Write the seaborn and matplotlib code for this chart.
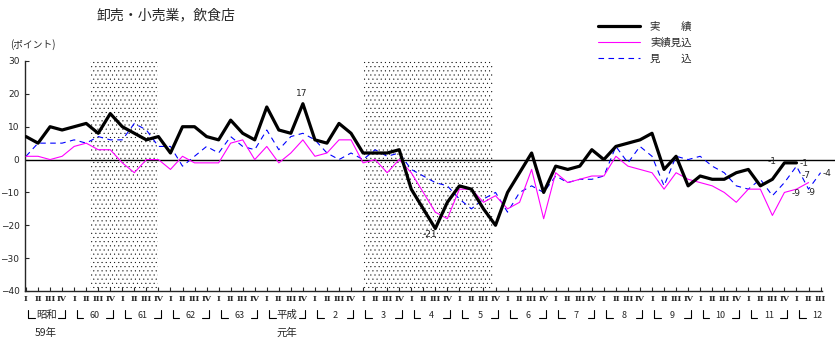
import numpy as np
import pandas as pd
import seaborn as sns
import matplotlib.pyplot as plt
from matplotlib.transforms import blended_transform_factory

# 実績 (1984 I - 2000 I)
jisseki = [7, 5, 10, 9, 10, 11, 8, 14, 10, 8, 6, 7, 2, 10, 10, 7, 6, 12, 8, 6,
           16, 9, 8, 17, 6, 5, 11, 8, 2, 2, 2, 3, -9, -15, -21, -13, -8, -9, -15, -20,
           -10, -4, 2, -10, -2, -3, -2, 3, 0, 4, 5, 6, 8, -3, 1, -8, -5, -6, -6, -4,
           -3, -8, -6, -1, -1]
# 実績見込 (1984 I - 2000 II)
jisseki_mikomi = [1, 1, 0, 1, 4, 5, 3, 3, -1, -4, 0, 0, -3, 1, -1, -1, -1, 5, 6, 0,
                  4, -1, 2, 6, 1, 2, 6, 6, -1, 0, -4, 0, -4, -10, -16, -18, -9, -9, -13, -11,
                  -15, -13, -3, -18, -4, -7, -6, -5, -5, 1, -2, -3, -4, -9, -4, -6, -7, -8, -10, -13,
                  -9, -9, -17, -10, -9, -7]
# 見込 (1984 I - 2000 III)
mikomi = [1, 5, 5, 5, 6, 5, 7, 6, 6, 11, 9, 4, 4, -2, 1, 4, 2, 7, 4, 3,
          9, 3, 7, 8, 6, 2, 0, 2, 0, 3, 1, 2, -3, -5, -7, -8, -12, -15, -12, -10,
          -16, -10, -8, -10, -5, -7, -6, -6, -5, 4, -1, 4, 1, -8, 1, 0, 1, -2, -4, -8,
          -9, -6, -11, -7, -2, -9, -4]

quarter_names = ["I", "II", "III", "IV"]
year_labels = ["昭和", "60", "61", "62", "63", "平成", "2", "3", "4", "5",
               "6", "7", "8", "9", "10", "11", "12"]
recessions = [(5.3, 11.0), (28.0, 38.8)]

df_a = pd.DataFrame({"q": np.arange(len(jisseki)), "v": jisseki})
df_b = pd.DataFrame({"q": np.arange(len(jisseki_mikomi)), "v": jisseki_mikomi})
df_c = pd.DataFrame({"q": np.arange(len(mikomi)), "v": mikomi})

sns.set_style("ticks")
plt.rcParams["font.family"] = ["Noto Sans CJK JP", "DejaVu Sans"]
plt.rcParams["hatch.linewidth"] = 0.25

fig = plt.figure(figsize=(8.4, 3.46), dpi=100)
ax = fig.add_axes([25 / 840, 55 / 346, 810 / 840, 230 / 346])

for a, b in recessions:
    ax.axvspan(a, b, facecolor="white", edgecolor="black", hatch="....", linewidth=0, zorder=0)
ax.axhline(0, color="black", lw=1, zorder=1)

sns.lineplot(data=df_c, x="q", y="v", ax=ax, color="#0000ff", lw=0.8,
             dashes=False, label="見　　込", zorder=2)
ax.lines[-1].set_dashes((5, 4))
sns.lineplot(data=df_b, x="q", y="v", ax=ax, color="#ff00ff", lw=0.8,
             label="実績見込", zorder=3)
sns.lineplot(data=df_a, x="q", y="v", ax=ax, color="black", lw=2.3,
             label="実　　績", zorder=4)

ax.set_xlim(-0.083, 67.2)
ax.set_ylim(-40, 30)
ax.set_xlabel("")
ax.set_ylabel("")
sns.despine(ax=ax)
ax.spines["bottom"].set_bounds(-0.083, 66.1)
ax.spines["left"].set_linewidth(1)
ax.spines["bottom"].set_linewidth(1)

n = len(mikomi)
ax.set_xticks(range(n))
ax.set_xticklabels([quarter_names[i % 4] for i in range(n)],
                   fontfamily="DejaVu Serif", fontweight="bold", fontsize=5.8)
ax.tick_params(axis="x", direction="in", length=3, width=0.8, pad=3)
ax.set_yticks(range(-40, 31, 10))
ax.tick_params(axis="y", direction="in", length=3, width=0.8, pad=4, labelsize=6.5)
for t in ax.get_yticklabels():
    t.set_fontfamily("DejaVu Sans")

# value labels
notes = [(23, 17, "17", -1, 10), (34, -21, "-21", -5, -6),
         (63, -1, "-1", -12, 1), (64, -1, "-1", 8, -1),
         (64, -9, "-9", 0, -4), (65, -7, "-7", -2, 7),
         (65, -9, "-9", 3, -3), (66, -4, "-4", 6, -1)]
for x, y, s, dx, dy in notes:
    ax.annotate(s, (x, y), xytext=(dx, dy), textcoords="offset pixels",
                ha="center", va="center", fontsize=6.5, fontfamily="DejaVu Sans")

# year brackets under the axis
tr = blended_transform_factory(ax.transData, fig.transFigure)
y_top, y_bot = 1 - 310 / 346, 1 - 318 / 346
for k, lab in enumerate(year_labels):
    x0 = 4 * k
    ax.plot([x0 + 0.2, x0 + 0.2, x0 + 0.75], [y_top, y_bot, y_bot], color="black",
            lw=0.8, transform=tr, clip_on=False)
    if k < len(year_labels) - 1:
        ax.plot([x0 + 2.65, x0 + 3.2, x0 + 3.2], [y_bot, y_bot, y_top], color="black",
                lw=0.8, transform=tr, clip_on=False)
    ax.text(x0 + 1.7, 1 - 315 / 346, lab, transform=tr, ha="center", va="center",
            fontsize=7.5 if not lab.isdigit() else 6.5)
ax.text(1.6, 1 - 333 / 346, "59年", transform=tr, ha="center", va="center", fontsize=7.5)
ax.text(21.7, 1 - 333 / 346, "元年", transform=tr, ha="center", va="center", fontsize=7.5)

fig.text(97 / 840, 1 - 15 / 346, "卸売・小売業，飲食店", ha="left", va="center", fontsize=10)
fig.text(10 / 840, 1 - 45 / 346, "(ポイント)", ha="left", va="center", fontsize=7)

handles, labels = ax.get_legend_handles_labels()
ax.get_legend().remove()
order = [2, 1, 0]
fig.legend([handles[i] for i in order], [labels[i] for i in order],
           loc="upper left", bbox_to_anchor=(598 / 840, 1 - 22 / 346),
           bbox_transform=fig.transFigure, frameon=False, fontsize=7.5,
           handlelength=4.0, handletextpad=1.0, labelspacing=0.55,
           borderpad=0, borderaxespad=0)

fig.savefig("out.png", dpi=100)
